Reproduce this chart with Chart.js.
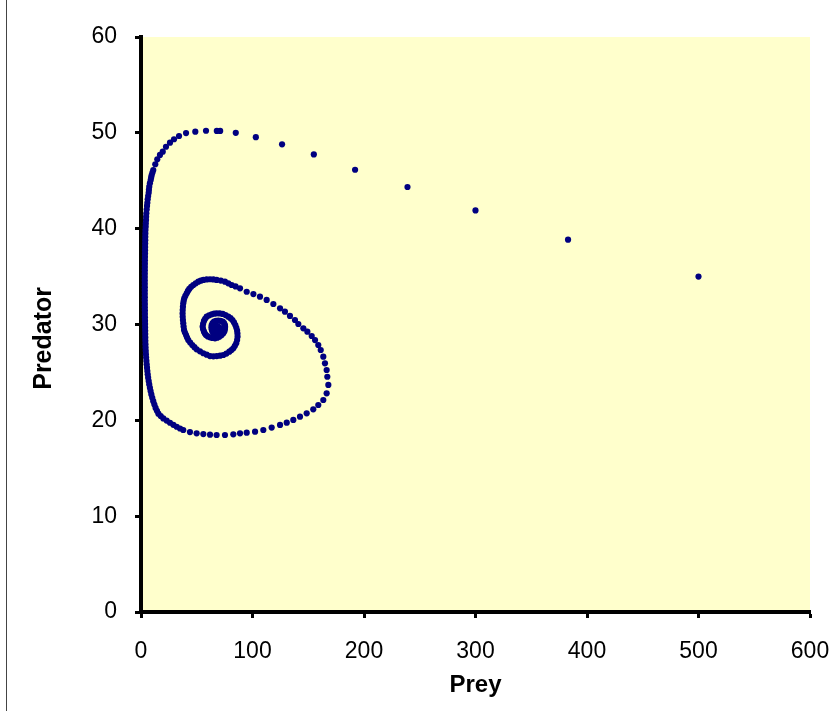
<!DOCTYPE html>
<html>
<head>
<meta charset="utf-8">
<script src="https://cdn.jsdelivr.net/npm/chart.js@4.4.1/dist/chart.umd.min.js"></script>
<style>
  body { margin: 0; background: #fff; }
  #wrap { position: relative; width: 838px; height: 711px; }
  #edge { position: absolute; left: 6px; top: 0; width: 1px; height: 711px; background: #444; }
  canvas { position: absolute; left: 0; top: 0; }
</style>
</head>
<body>
<div id="wrap">
  <div id="edge"></div>
  <canvas id="chart" width="838" height="711"></canvas>
</div>
<script>
// axis ticks
const xTicks = [0, 100, 200, 300, 400, 500, 600]
const yTicks = [0, 10, 20, 30, 40, 50, 60]

// trajectory in order (prey, predator)
const prey = [
  500, 383, 300, 239, 192, 155, 126.5, 103, 85, 71, 68, 58.3, 48.7, 40.4, 34.1, 29.6, 26.0, 22.4, 19.5, 17.0, 14.6, 12.8, 11.0,
  // left side, going down
  10.3, 9.6, 9.1, 8.7, 8.0, 7.4, 7.1, 6.9, 6.4, 6.0, 5.7, 5.4, 5.1, 4.8, 4.6, 4.5, 4.3, 4.2, 4.0, 3.9,
  3.85, 3.8, 3.75, 3.7, 3.65, 3.6, 3.55, 3.5, 3.5, 3.45, 3.45, 3.4, 3.4, 3.4, 3.4, 3.4, 3.4, 3.4, 3.4, 3.4,
  3.45, 3.45, 3.5, 3.5, 3.55, 3.6, 3.65, 3.7, 3.75, 3.8, 3.85, 3.9, 4.0, 4.1, 4.25, 4.4, 4.6, 4.85, 5.1, 5.4,
  5.7, 6.0, 6.4, 6.9, 7.4, 8.0, 8.6, 9.3, 10.1, 11.0, 12.0, 13.1, 14.3, 15.6, 17.7, 20.0, 23.0, 26.0, 29.0, 32.0,
  35.0, 37.9,
  // bottom
  43.9, 49.9, 55.9, 61.9, 67.8, 75.3, 82.8, 88.8, 94.8, 102.3, 109.7, 117.2, 124.7, 130.7, 136.6, 142.6, 148.6,
  154.5, 159.0, 163.5, 166.5, 168.0,
  // right side, going up
  167.1, 166.5, 165.0, 163.5, 161.2, 159.0, 156.1, 153.1, 149.2, 145.6, 141.1, 138.1, 133.6, 129.1, 124.7,
  118.7, 112.7, 106.7, 100.8, 94.8, 88.8, 84.8,
  // inner spiral
  81.3, 78.3, 75.3, 71.6, 67.9, 64.9, 61.9, 58.9, 55.9, 53.6,
  51.4, 49.1, 46.9, 45.0, 43.3, 42.1, 41.0, 39.8, 38.8, 38.3,
  37.9, 37.6, 37.4, 37.3, 37.4, 37.6, 37.9, 38.2, 38.6, 39.4,
  40.4, 41.3, 42.4, 44.1, 46.0, 47.9, 49.9, 52.9, 55.9, 58.9,
  61.9, 64.9, 67.9, 70.9, 73.8, 76.6, 79.2, 81.1, 82.8, 84.2,
  85.4, 86.2, 86.6, 86.5, 86.2, 85.5, 84.6, 83.4, 82.0, 80.3,
  78.3, 75.8, 73.3, 70.6, 67.9, 65.6, 63.4, 61.1, 58.9, 57.5,
  56.5, 55.7, 55.3, 55.7, 56.5, 57.3, 58.3, 60.0, 61.9, 64.1,
  66.4, 68.4, 70.2, 72.1, 73.8, 74.8, 75.3, 75.4, 75.3, 74.5,
  73.3, 71.3, 69.3, 67.3, 65.5, 64.2, 63.4, 63.2, 63.4, 63.9,
  64.8, 66.4, 67.9, 69.2, 70.2, 70.5, 70.2, 68.8, 67.3, 66.2,
  65.5, 66.1, 67.3, 68.2, 68.4, 67.6, 66.6, 66.5, 67.2, 67.6,
  67.0, 66.9
]
const predator = [
  35.0, 38.85, 41.9, 44.35, 46.15, 47.75, 48.8, 49.55, 50.0, 50.2, 50.2, 50.22, 50.12, 49.98, 49.67, 49.33, 48.97, 48.55, 48.03, 47.69, 47.24, 46.72, 46.12,
  45.85, 45.6, 45.35, 45.08, 44.75, 44.38, 44.05, 43.75, 43.4, 43.06, 42.7, 42.37, 42.0, 41.6, 41.25, 40.9, 40.55, 40.2, 39.85, 39.5,
  39.15, 38.8, 38.45, 38.1, 37.75, 37.4, 37.05, 36.7, 36.35, 36.0, 35.65, 35.3, 34.95, 34.6, 34.25, 33.9, 33.55, 33.2, 32.85, 32.5,
  32.15, 31.8, 31.45, 31.1, 30.75, 30.4, 30.05, 29.7, 29.35, 29.0, 28.65, 28.3, 27.95, 27.6, 27.25, 26.9, 26.55, 26.2, 25.85, 25.5,
  25.15, 24.8, 24.45, 24.1, 23.75, 23.4, 23.05, 22.7, 22.35, 22.0, 21.65, 21.3, 21.0, 20.7, 20.45, 20.2, 19.97, 19.75, 19.53, 19.33,
  19.15, 18.99,
  18.78, 18.64, 18.57, 18.50, 18.47, 18.47, 18.54, 18.64, 18.71, 18.82, 18.99, 19.24, 19.52, 19.76, 20.04, 20.38, 20.73,
  21.15, 21.6, 22.12, 22.82, 23.69,
  24.55, 25.25, 25.95, 26.64, 27.34, 27.86, 28.38, 28.8, 29.25, 29.6, 30.05, 30.47, 30.89, 31.34, 31.69,
  32.14, 32.56, 32.9, 33.18, 33.42, 33.78, 33.97,
  34.12, 34.3, 34.47, 34.58, 34.65, 34.7, 34.72, 34.7, 34.65, 34.57,
  34.47, 34.3, 34.12, 33.93, 33.71, 33.5, 33.26, 33.0, 32.73, 32.47,
  32.21, 31.86, 31.51, 31.16, 30.81, 30.47, 30.13, 29.78, 29.43, 29.16,
  28.9, 28.64, 28.38, 28.12, 27.86, 27.63, 27.41, 27.2, 27.0, 26.85,
  26.71, 26.68, 26.71, 26.75, 26.82, 26.97, 27.16, 27.33, 27.52, 27.77,
  28.04, 28.38, 28.73, 29.05, 29.36, 29.66, 29.95, 30.22, 30.47, 30.66,
  30.82, 30.98, 31.1, 31.16, 31.17, 31.13, 31.06, 30.96, 30.82, 30.6,
  30.37, 30.07, 29.77, 29.5, 29.25, 29.06, 28.9, 28.76, 28.66, 28.59,
  28.56, 28.62, 28.73, 28.88, 29.08, 29.3, 29.53, 29.75, 29.95, 30.15,
  30.3, 30.38, 30.4, 30.37, 30.3, 30.15, 29.95, 29.72, 29.5, 29.3,
  29.15, 29.08, 29.08, 29.18, 29.32, 29.52, 29.71, 29.82, 29.85, 29.75,
  29.56, 29.42, 29.36, 29.45, 29.56, 29.64, 29.6, 29.5, 29.47, 29.53,
  29.56, 29.5
]

const plotFill = {
  id: 'plotFill',
  beforeDraw(chart) {
    const { ctx, chartArea: a } = chart
    ctx.save()
    ctx.fillStyle = '#FFFFCC'
    ctx.fillRect(a.left, a.top, a.right - a.left, a.bottom - a.top)
    ctx.restore()
  }
}

const tickFont = { family: '"Liberation Sans", Arial, sans-serif', size: 23 }
const titleFont = { family: '"Liberation Sans", Arial, sans-serif', size: 24, weight: 'bold' }

const axisGrid = {
  drawOnChartArea: false,
  drawTicks: true,
  tickLength: 6,
  tickWidth: 3,
  tickColor: '#000'
}

new Chart(document.getElementById('chart').getContext('2d'), {
  type: 'scatter',
  data: {
    datasets: [{
      label: 'Predator vs Prey',
      data: prey.map((x, i) => ({ x, y: predator[i] })),
      backgroundColor: '#000080',
      borderWidth: 0,
      pointRadius: 3.1,
      pointHoverRadius: 3.1
    }]
  },
  options: {
    responsive: false,
    animation: false,
    layout: { padding: { top: 37, right: 28, left: 0, bottom: 0 } },
    plugins: { legend: { display: false }, tooltip: { enabled: false } },
    scales: {
      x: {
        type: 'linear',
        min: xTicks[0],
        max: xTicks[xTicks.length - 1],
        afterBuildTicks: (s) => { s.ticks = xTicks.map(v => ({ value: v })) },
        afterFit: (s) => { s.height = 99; s.paddingLeft = 0; s.paddingRight = 0 },
        ticks: { color: '#000', font: tickFont, padding: 20, maxRotation: 0 },
        grid: axisGrid,
        border: { display: true, color: '#000', width: 4 },
        title: { display: true, text: 'Prey', color: '#000', font: titleFont, padding: { top: 0, bottom: 11 } }
      },
      y: {
        type: 'linear',
        min: yTicks[0],
        max: yTicks[yTicks.length - 1],
        afterBuildTicks: (s) => { s.ticks = yTicks.map(v => ({ value: v })) },
        afterFit: (s) => { s.width = 141; s.paddingTop = 0; s.paddingBottom = 0 },
        ticks: { color: '#000', font: tickFont, padding: 18 },
        grid: axisGrid,
        border: { display: true, color: '#000', width: 4 },
        // trailing spaces nudge the rotated label a little lower, as in the original
        title: { display: true, text: 'Predator    ', color: '#000', font: { ...titleFont, size: 25 }, padding: { top: 29, bottom: 0 } }
      }
    }
  },
  plugins: [plotFill]
})
</script>
</body>
</html>
